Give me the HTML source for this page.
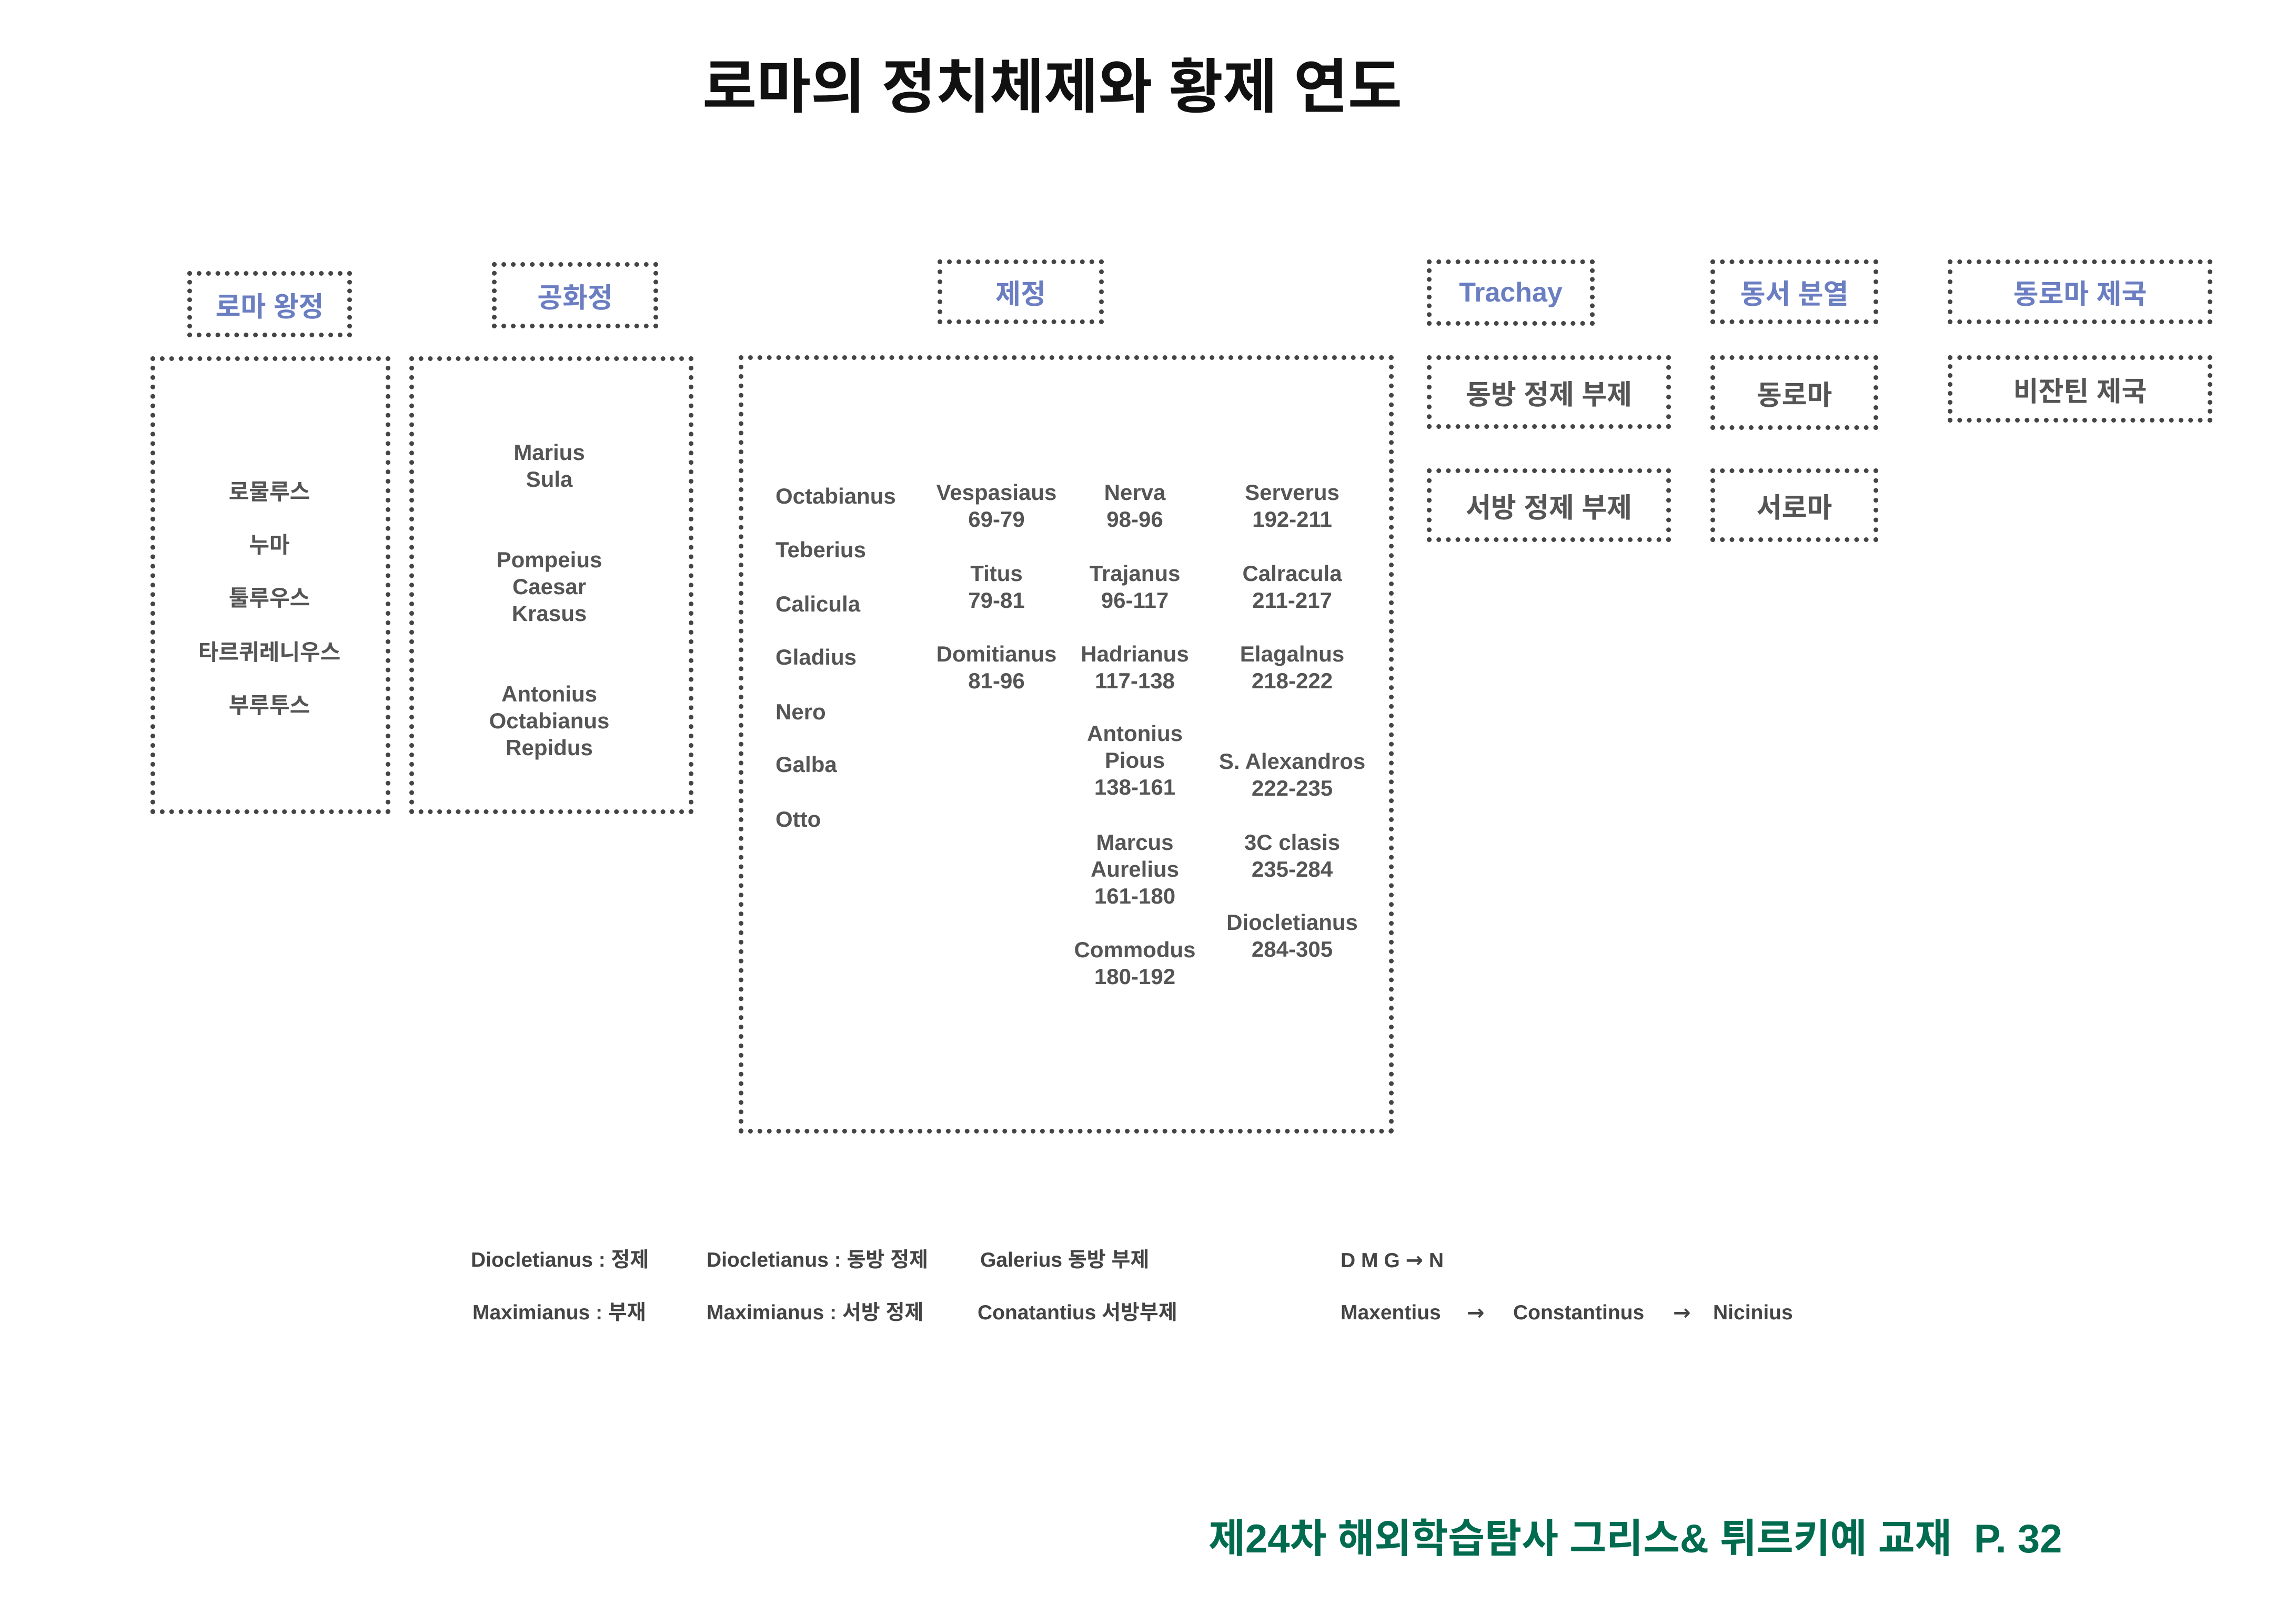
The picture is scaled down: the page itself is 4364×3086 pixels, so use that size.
<!DOCTYPE html>
<html><head><meta charset="utf-8">
<style>
html,body{margin:0;padding:0;background:#fff;}
body{width:4364px;height:3086px;position:relative;overflow:hidden;font-family:"Liberation Sans","Noto Sans CJK KR",sans-serif;}
#w{position:absolute;left:0;top:0;width:4364px;height:3086px;transform:translate(-8px,-5px);}
.b{position:absolute;border:9px dotted #444;box-sizing:border-box;}
.lb{display:flex;align-items:center;justify-content:center;color:#6b7ec2;font-size:52px;font-weight:bold;white-space:nowrap;}
.t{position:absolute;color:#555;font-size:42px;font-weight:bold;line-height:51px;text-align:center;white-space:nowrap;transform:translateX(-50%);}
.l{position:absolute;color:#555;font-size:42px;font-weight:bold;line-height:51px;white-space:nowrap;}
.bt{position:absolute;color:#444;font-size:39px;font-weight:bold;white-space:nowrap;line-height:50px;}
.ar{font-family:"DejaVu Sans",sans-serif;font-size:40px;}
</style></head><body><div id="w">
<div style="position:absolute;left:0;width:4016px;top:80px;text-align:center;font-size:112px;font-weight:bold;color:#111;white-space:nowrap;">로마의 정치체제와 황제 연도</div>

<div class="b lb" style="left:364px;top:520px;width:313px;height:126px;">로마 왕정</div>
<div class="b lb" style="left:943px;top:503px;width:316px;height:126px;">공화정</div>
<div class="b lb" style="left:1790px;top:498px;width:316px;height:123px;">제정</div>
<div class="b lb" style="left:2720px;top:498px;width:319px;height:126px;">Trachay</div>
<div class="b lb" style="left:3259px;top:498px;width:319px;height:123px;">동서 분열</div>
<div class="b lb" style="left:3710px;top:498px;width:503px;height:123px;">동로마 제국</div>

<div class="b" style="left:294px;top:682px;width:456px;height:870px;"></div>
<div class="b" style="left:786px;top:682px;width:540px;height:870px;"></div>
<div class="b" style="left:1412px;top:680px;width:1245px;height:1479px;"></div>

<div class="b lb" style="left:2720px;top:680px;width:464px;height:140px;color:#555;">동방 정제 부제</div>
<div class="b lb" style="left:2720px;top:895px;width:464px;height:140px;color:#555;">서방 정제 부제</div>
<div class="b lb" style="left:3259px;top:680px;width:319px;height:142px;color:#555;">동로마</div>
<div class="b lb" style="left:3259px;top:895px;width:319px;height:140px;color:#555;">서로마</div>
<div class="b lb" style="left:3710px;top:680px;width:503px;height:128px;color:#555;">비잔틴 제국</div>

<div class="t" style="left:520px;top:914px;">로물루스</div>
<div class="t" style="left:520px;top:1015px;">누마</div>
<div class="t" style="left:520px;top:1116px;">툴루우스</div>
<div class="t" style="left:520px;top:1219px;">타르퀴레니우스</div>
<div class="t" style="left:520px;top:1320px;">부루투스</div>

<div class="t" style="left:1052px;top:839px;">Marius<br>Sula</div>
<div class="t" style="left:1052px;top:1043px;">Pompeius<br>Caesar<br>Krasus</div>
<div class="t" style="left:1052px;top:1298px;">Antonius<br>Octabianus<br>Repidus</div>

<div class="l" style="left:1482px;top:922px;">Octabianus</div>
<div class="l" style="left:1482px;top:1024px;">Teberius</div>
<div class="l" style="left:1482px;top:1127px;">Calicula</div>
<div class="l" style="left:1482px;top:1228px;">Gladius</div>
<div class="l" style="left:1482px;top:1332px;">Nero</div>
<div class="l" style="left:1482px;top:1432px;">Galba</div>
<div class="l" style="left:1482px;top:1536px;">Otto</div>

<div class="t" style="left:1902px;top:915px;">Vespasiaus<br>69-79</div>
<div class="t" style="left:1902px;top:1069px;">Titus<br>79-81</div>
<div class="t" style="left:1902px;top:1222px;">Domitianus<br>81-96</div>

<div class="t" style="left:2165px;top:915px;">Nerva<br>98-96</div>
<div class="t" style="left:2165px;top:1069px;">Trajanus<br>96-117</div>
<div class="t" style="left:2165px;top:1222px;">Hadrianus<br>117-138</div>
<div class="t" style="left:2165px;top:1373px;">Antonius<br>Pious<br>138-161</div>
<div class="t" style="left:2165px;top:1580px;">Marcus<br>Aurelius<br>161-180</div>
<div class="t" style="left:2165px;top:1784px;">Commodus<br>180-192</div>

<div class="t" style="left:2464px;top:915px;">Serverus<br>192-211</div>
<div class="t" style="left:2464px;top:1069px;">Calracula<br>211-217</div>
<div class="t" style="left:2464px;top:1222px;">Elagalnus<br>218-222</div>
<div class="t" style="left:2464px;top:1426px;">S. Alexandros<br>222-235</div>
<div class="t" style="left:2464px;top:1580px;">3C clasis<br>235-284</div>
<div class="t" style="left:2464px;top:1732px;">Diocletianus<br>284-305</div>

<div class="bt" style="left:903px;top:2375px;">Diocletianus : 정제</div>
<div class="bt" style="left:1351px;top:2375px;">Diocletianus : 동방 정제</div>
<div class="bt" style="left:1871px;top:2375px;">Galerius 동방 부제</div>
<div class="bt" style="left:2556px;top:2375px;">D M G <span class="ar">→</span> N</div>
<div class="bt" style="left:906px;top:2475px;">Maximianus : 부재</div>
<div class="bt" style="left:1351px;top:2475px;">Maximianus : 서방 정제</div>
<div class="bt" style="left:1866px;top:2475px;">Conatantius 서방부제</div>
<div class="bt" style="left:2556px;top:2475px;">Maxentius</div>
<div class="bt ar" style="left:2796px;top:2475px;">→</div>
<div class="bt" style="left:2884px;top:2475px;">Constantinus</div>
<div class="bt ar" style="left:3188px;top:2475px;">→</div>
<div class="bt" style="left:3264px;top:2475px;">Nicinius</div>

<div style="position:absolute;left:2305px;top:2882px;font-size:76px;font-weight:bold;color:#006b4f;white-space:nowrap;line-height:96px;">제24차 해외학습탐사 그리스&amp; 튀르키예 교재&nbsp; P. 32</div>
</div></body></html>
